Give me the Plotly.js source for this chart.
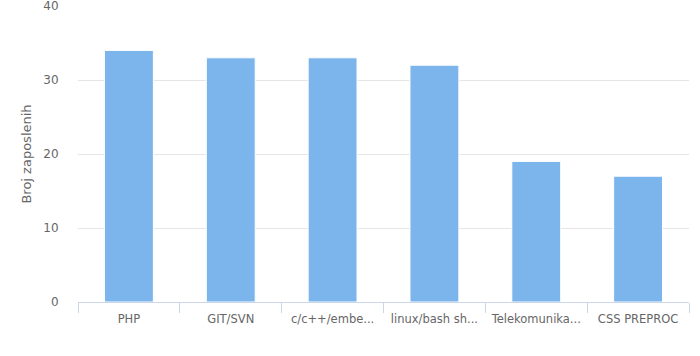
<!DOCTYPE html>
<html>
<head>
<meta charset="utf-8">
<script src="https://cdn.plot.ly/plotly-3.0.1.min.js"></script>
<style>html,body{margin:0;padding:0;background:#fff;}#chart{width:700px;height:356px;}</style>
</head>
<body>
<div id="chart"></div>
<script>
const categories = ["PHP", "GIT/SVN", "c/c++/embe...", "linux/bash sh...", "Telekomunika...", "CSS PREPROC"];
const values = [34, 33, 33, 32, 19, 17];
const yTickVals = [0, 10, 20, 30, 40];
const yTitle = "Broj zaposlenih";

const font = "DejaVu Sans, Verdana, sans-serif";
Plotly.newPlot("chart", [{
  type: "bar",
  x: categories,
  y: values,
  marker: {color: "#7cb5ec", line: {color: "#ffffff", width: 1}},
  hoverinfo: "x+y"
}], {
  width: 700, height: 356,
  margin: {l: 78, r: 11, t: 6, b: 54},
  paper_bgcolor: "#ffffff", plot_bgcolor: "#ffffff",
  bargap: 0.52,
  showlegend: false,
  font: {family: font, size: 11.5, color: "#666666"},
  xaxis: {
    type: "category",
    tickson: "boundaries",
    tickangle: 0,
    ticks: "outside", ticklen: 10, tickcolor: "#ccd6eb", tickwidth: 1,
    ticklabelstandoff: 6,
    showline: true, linecolor: "#ccd6eb", linewidth: 1,
    showgrid: false, zeroline: false,
    tickfont: {family: font, size: 11.5, color: "#666666"}
  },
  yaxis: {
    range: [0, 40], tickvals: yTickVals,
    showgrid: true, gridcolor: "#e6e6e6", gridwidth: 1,
    zeroline: false, showline: false,
    ticks: "outside", ticklen: 16, tickcolor: "rgba(0,0,0,0)",
    ticklabeloverflow: "allow",
    tickfont: {family: font, size: 12, color: "#666666"},
    title: {text: yTitle, font: {family: font, size: 13, color: "#666666"}, standoff: 8}
  }
}, {displayModeBar: false, staticPlot: true});
</script>
</body>
</html>
